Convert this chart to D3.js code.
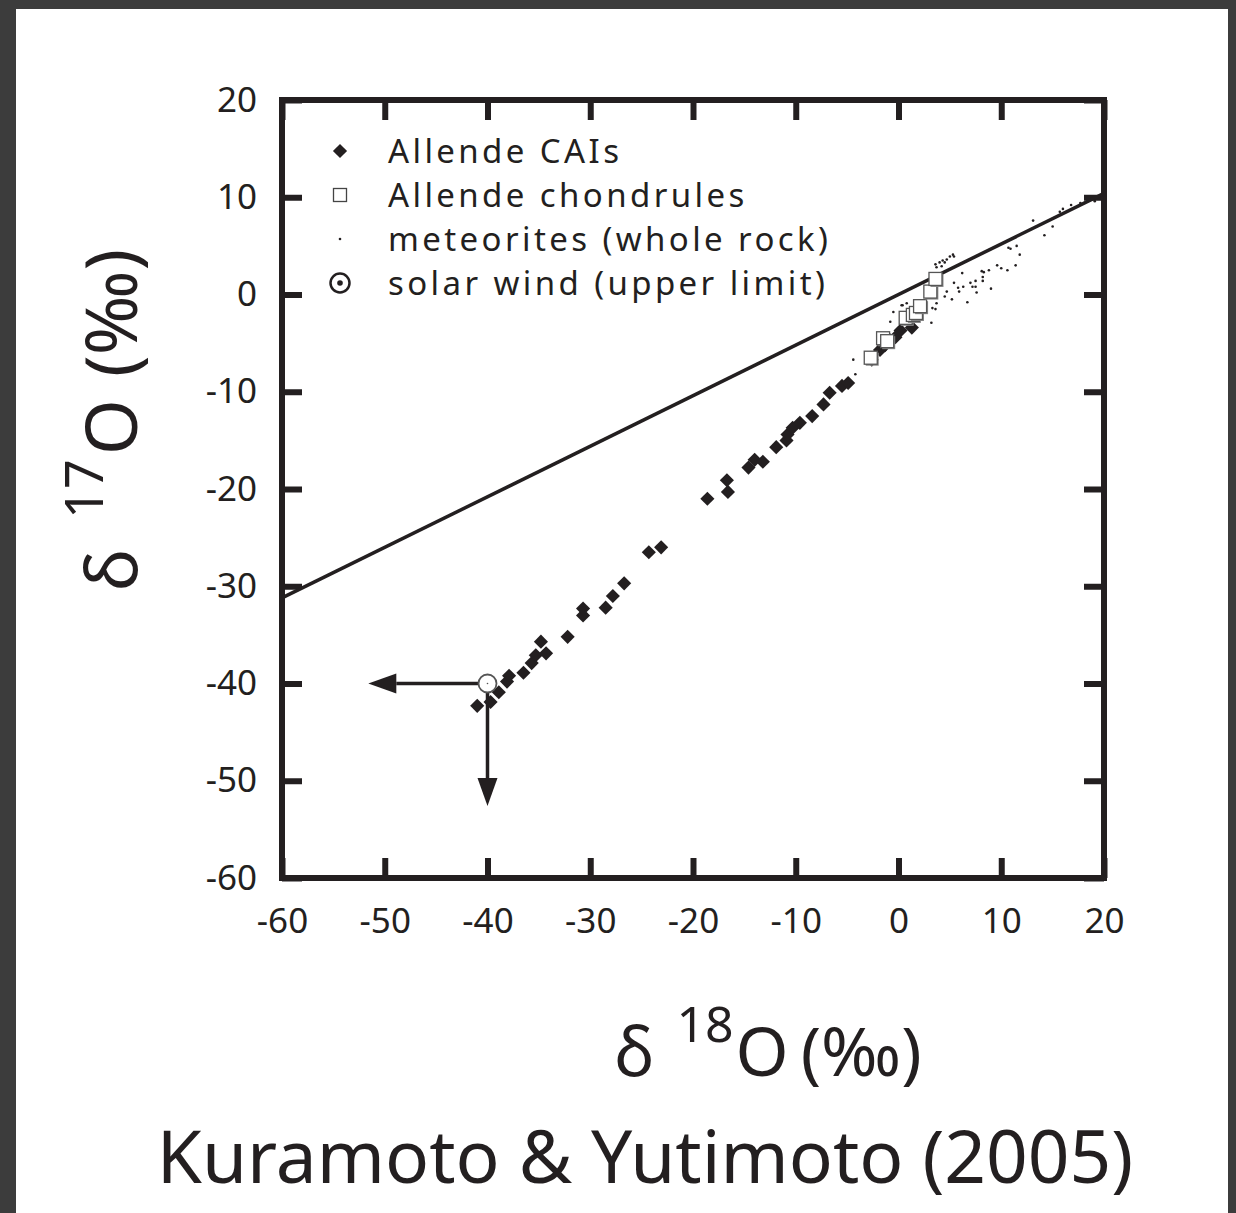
<!DOCTYPE html>
<html>
<head>
<meta charset="utf-8">
<script src="https://cdn.jsdelivr.net/npm/d3@7"></script>
<style>
  body { margin: 0; background: #3c3c3c; }
  svg { display: block; }
  text { font-family: "Noto Sans", "Open Sans", sans-serif; fill: #231f20; }
</style>
</head>
<body>
<svg id="chart" width="1236" height="1213"></svg>
<script>
// Oxygen isotopes, Allende CAIs etc.
const xTicks = [-60, -50, -40, -30, -20, -10, 0, 10, 20];
const yTicks = [20, 10, 0, -10, -20, -30, -40, -50, -60];

// Allende CAIs [d18O, d17O]
const caiPoints = [
  [-41.0, -42.3], [-39.7, -41.9], [-38.9, -40.9], [-38.1, -39.8], [-37.9, -39.2],
  [-36.5, -38.9], [-35.7, -37.9], [-35.3, -37.1], [-34.3, -36.9], [-34.8, -35.7],
  [-32.2, -35.2], [-30.7, -33.0], [-30.7, -32.3], [-28.5, -32.2], [-27.8, -31.0],
  [-26.7, -29.7], [-24.3, -26.5], [-23.1, -26.0], [-18.6, -21.0], [-16.6, -20.3],
  [-16.7, -19.1], [-14.6, -17.8], [-14.0, -17.0], [-13.2, -17.2], [-11.9, -15.7],
  [-10.9, -15.0], [-10.8, -14.4], [-10.3, -13.7], [-9.6, -13.2], [-8.4, -12.5],
  [-7.3, -11.3], [-6.7, -10.1], [-5.5, -9.4], [-4.9, -9.1], [-2.6, -6.7],
  [-1.8, -5.7], [-1.3, -5.2], [-0.3, -4.4], [0.2, -3.7], [1.3, -3.4]
];

// Allende chondrules
const chondrulePoints = [
  [-2.7, -6.5], [-1.5, -4.5], [-1.1, -4.8], [0.7, -2.4], [1.4, -2.1],
  [1.7, -1.9], [2.1, -1.2], [3.1, 0.3], [3.6, 1.6]
];

// meteorites (whole rock)
const meteoritePoints = [
  [16.8, 9.2], [16.0, 8.8], [15.7, 8.5], [19.1, 9.6], [17.7, 9.4], [13.1, 7.6],
  [15.0, 7.0], [14.2, 6.1], [10.7, 4.8], [10.9, 4.7], [11.5, 5.0], [11.8, 4.1],
  [9.6, 3.0], [10.0, 2.7], [10.6, 2.5], [11.4, 3.0], [8.1, 2.4], [8.3, 2.3],
  [8.8, 2.5], [6.2, 2.2], [8.2, 1.8], [8.2, 1.4], [7.5, 1.4], [7.0, 1.2],
  [7.2, 0.8], [7.5, 0.8], [9.0, 0.6], [5.4, 1.2], [6.3, 0.8], [5.8, 0.7],
  [5.9, 0.3], [7.6, 0.2], [4.7, 0.3], [4.5, -0.2], [5.2, -0.5], [6.7, -0.8],
  [3.6, 3.1], [4.0, 3.3], [4.3, 3.5], [4.7, 3.6], [5.0, 3.9], [5.3, 4.1],
  [5.4, 3.9], [3.7, 2.8], [4.2, 2.9], [4.5, 3.3], [3.7, -0.9], [3.3, -1.4],
  [3.6, -1.5], [0.8, -0.9], [0.4, -1.1], [1.8, -1.1], [-4.4, -6.7], [-4.2, -8.2],
  [-0.5, -1.8], [0.3, -1.1], [-0.8, -2.8], [0.0, -3.6], [2.1, -2.6], [3.2, -2.9]
];

// solar wind (upper limit) and its arrow ends
const solarWind = [-40, -40];
const arrowLeftTo = [-51.6, -40];
const arrowDownTo = [-40, -52.6];

// terrestrial fractionation line
const tfLine = [[-60, -31.2], [20, 10.4]];

const legendItems = [
  "Allende CAIs",
  "Allende chondrules",
  "meteorites (whole rock)",
  "solar wind (upper limit)"
];

const ink = "#231f20";
const svg = d3.select("#chart");

// white panel on dark backdrop
svg.append("rect").attr("width", 1236).attr("height", 1213).attr("fill", "#3c3c3c");
svg.append("rect").attr("x", 16).attr("y", 9).attr("width", 1212).attr("height", 1210).attr("fill", "#fff");

const margin = { left: 282, right: 1104, top: 100, bottom: 878 };
const x = d3.scaleLinear().domain([-60, 20]).range([margin.left, margin.right]);
const y = d3.scaleLinear().domain([-60, 20]).range([margin.bottom, margin.top]);

const plot = svg.append("g");

// axes: inward ticks on all four sides
function styleAxis(g) {
  g.selectAll(".domain").remove();
  g.selectAll(".tick line").attr("stroke", ink).attr("stroke-width", 6);
  g.selectAll(".tick text")
    .attr("fill", ink)
    .style("font-size", "35px")
    .style("font-family", '"Noto Sans", sans-serif');
}

plot.append("g")
  .attr("transform", `translate(0,${margin.bottom})`)
  .call(d3.axisBottom(x).tickValues(xTicks).tickFormat((d) => String(d)).tickSizeInner(-20).tickSizeOuter(0).tickPadding(30))
  .call(styleAxis);

plot.append("g")
  .attr("transform", `translate(0,${margin.top})`)
  .call(d3.axisTop(x).tickValues(xTicks).tickFormat("").tickSizeInner(-20).tickSizeOuter(0))
  .call(styleAxis);

plot.append("g")
  .attr("transform", `translate(${margin.left},0)`)
  .call(d3.axisLeft(y).tickValues(yTicks).tickFormat((d) => String(d)).tickSizeInner(-20).tickSizeOuter(0).tickPadding(25))
  .call(styleAxis);

plot.append("g")
  .attr("transform", `translate(${margin.right},0)`)
  .call(d3.axisRight(y).tickValues(yTicks).tickFormat("").tickSizeInner(-20).tickSizeOuter(0))
  .call(styleAxis);

// frame
plot.append("rect")
  .attr("x", x(-60)).attr("y", y(20))
  .attr("width", x(20) - x(-60)).attr("height", y(-60) - y(20))
  .attr("fill", "none").attr("stroke", ink).attr("stroke-width", 6);

// fractionation line
plot.append("path")
  .datum(tfLine)
  .attr("d", d3.line().x((d) => x(d[0])).y((d) => y(d[1])))
  .attr("stroke", ink).attr("stroke-width", 3.5).attr("fill", "none");

// arrows from the solar wind point
function arrow(from, to) {
  const x0 = x(from[0]), y0 = y(from[1]), x1 = x(to[0]), y1 = y(to[1]);
  const ang = Math.atan2(y1 - y0, x1 - x0);
  const len = 28, half = 10;
  const bx = x1 - len * Math.cos(ang), by = y1 - len * Math.sin(ang);
  plot.append("line")
    .attr("x1", x0).attr("y1", y0).attr("x2", bx).attr("y2", by)
    .attr("stroke", ink).attr("stroke-width", 3.5);
  plot.append("path")
    .attr("d", `M${x1},${y1}L${bx - half * Math.sin(ang)},${by + half * Math.cos(ang)}L${bx + half * Math.sin(ang)},${by - half * Math.cos(ang)}Z`)
    .attr("fill", ink);
}
arrow(solarWind, arrowLeftTo);
arrow(solarWind, arrowDownTo);

// meteorites
plot.append("g").selectAll("circle")
  .data(meteoritePoints).enter().append("circle")
  .attr("cx", (d) => x(d[0])).attr("cy", (d) => y(d[1]))
  .attr("r", 1.3).attr("fill", ink);

// CAIs as diamonds
const diamond = d3.symbol().type(d3.symbolSquare).size(100);
plot.append("g").selectAll("path")
  .data(caiPoints).enter().append("path")
  .attr("d", diamond)
  .attr("transform", (d) => `translate(${x(d[0])},${y(d[1])}) rotate(45)`)
  .attr("fill", ink);

// chondrules as open squares with a soft shadow
const chond = plot.append("g").selectAll("g")
  .data(chondrulePoints).enter().append("g")
  .attr("transform", (d) => `translate(${x(d[0])},${y(d[1])})`);
chond.append("rect")
  .attr("x", -5).attr("y", -5).attr("width", 13).attr("height", 13)
  .attr("fill", "#888");
chond.append("rect")
  .attr("x", -6.5).attr("y", -6.5).attr("width", 13).attr("height", 13)
  .attr("fill", "#fff").attr("stroke", "#555").attr("stroke-width", 1.3);

// solar wind circle
plot.append("circle")
  .attr("cx", x(solarWind[0])).attr("cy", y(solarWind[1]))
  .attr("r", 9).attr("fill", "#fff").attr("stroke", "#555").attr("stroke-width", 1.8);
plot.append("circle")
  .attr("cx", x(solarWind[0])).attr("cy", y(solarWind[1]))
  .attr("r", 0.8).attr("fill", "#555");

// legend
const legend = svg.append("g");
const legX = 340, legTextX = 388, legY0 = 151, legStep = 44;
legendItems.forEach((label, i) => {
  const cy = legY0 + i * legStep;
  if (i === 0) {
    legend.append("path").attr("d", diamond)
      .attr("transform", `translate(${legX},${cy}) rotate(45)`).attr("fill", ink);
  } else if (i === 1) {
    legend.append("rect").attr("x", legX - 6.5).attr("y", cy - 6.5)
      .attr("width", 13).attr("height", 13)
      .attr("fill", "#fff").attr("stroke", "#444").attr("stroke-width", 1.3);
  } else if (i === 2) {
    legend.append("circle").attr("cx", legX).attr("cy", cy).attr("r", 1.3).attr("fill", ink);
  } else {
    legend.append("circle").attr("cx", legX).attr("cy", cy).attr("r", 9.5)
      .attr("fill", "none").attr("stroke", ink).attr("stroke-width", 2.5);
    legend.append("circle").attr("cx", legX).attr("cy", cy).attr("r", 2.8).attr("fill", ink);
  }
  legend.append("text")
    .attr("x", legTextX).attr("y", cy + 12)
    .style("font-size", "33px")
    .style("letter-spacing", "3.4px")
    .text(label);
});

// axis titles
const yTitle = svg.append("text")
  .attr("transform", "translate(137,420) rotate(-90)")
  .attr("text-anchor", "middle")
  .style("font-size", "72px");
yTitle.append("tspan").text("δ");
yTitle.append("tspan").attr("dx", 30).attr("dy", -34).style("font-size", "52px").text("17");
yTitle.append("tspan").attr("dx", 4).attr("dy", 34).text("O");
yTitle.append("tspan").attr("dx", 22).text("(‰)");

const xTitle = svg.append("text")
  .attr("x", 768).attr("y", 1076)
  .attr("text-anchor", "middle")
  .style("font-size", "68px");
xTitle.append("tspan").text("δ");
xTitle.append("tspan").attr("dx", 22).attr("dy", -34).style("font-size", "50px").text("18");
xTitle.append("tspan").attr("dx", 2).attr("dy", 34).text("O");
xTitle.append("tspan").attr("dx", 12).text("(‰)");

svg.append("text")
  .attr("x", 645).attr("y", 1183)
  .attr("text-anchor", "middle")
  .style("font-size", "73px")
  .text("Kuramoto & Yutimoto (2005)");
</script>
</body>
</html>
